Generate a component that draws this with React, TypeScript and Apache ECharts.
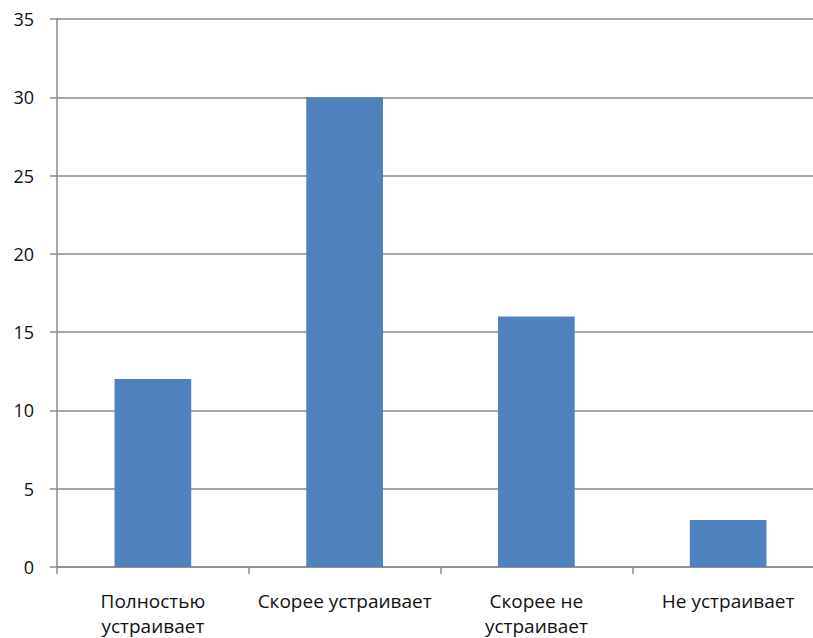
import React, { useEffect, useRef } from "react";
import * as echarts from "echarts";

const categories = ["Полностью\nустраивает", "Скорее устраивает", "Скорее не\nустраивает", "Не устраивает"];
const values = [12, 30, 16, 3];
const yTicks = { min: 0, max: 35, interval: 5 };

export default function App() {
  const ref = useRef<HTMLDivElement>(null);
  useEffect(() => {
    document.body.style.margin = "0";
    document.body.style.overflow = "hidden";
    const chart = echarts.init(ref.current!, null, { renderer: "svg" });
    chart.setOption({
      animation: false,
      backgroundColor: "#ffffff",
      grid: { left: 57, right: 0, top: 19, bottom: 69, containLabel: false },
      xAxis: {
        type: "category",
        data: categories,
        axisLine: { lineStyle: { color: "#8a8a8a", width: 1.5 } },
        axisTick: { show: true, length: 7, alignWithLabel: false, lineStyle: { color: "#8a8a8a", width: 1.5 } },
        axisLabel: {
          color: "#111",
          fontSize: 19,
          fontFamily: "Open Sans",
          lineHeight: 25,
          margin: 21,
          interval: 0,
        },
        splitLine: { show: false },
      },
      yAxis: {
        type: "value",
        min: yTicks.min,
        max: yTicks.max,
        interval: yTicks.interval,
        axisLine: { show: true, lineStyle: { color: "#8a8a8a", width: 1.5 } },
        axisTick: { show: true, length: 7, lineStyle: { color: "#8a8a8a", width: 1.5 } },
        axisLabel: { color: "#111", fontSize: 18, fontFamily: "Open Sans", margin: 23 },
        splitLine: { show: true, lineStyle: { color: "#8a8a8a", width: 1.5 } },
      },
      series: [
        {
          type: "bar",
          data: values,
          barWidth: "40%",
          itemStyle: { color: "#4F81BD" },
        },
      ],
    });
    return () => chart.dispose();
  }, []);
  return (
    <div style={{ width: 813, height: 638, overflow: "hidden" }}>
      <div ref={ref} style={{ width: 824, height: 638 }} />
    </div>
  );
}
